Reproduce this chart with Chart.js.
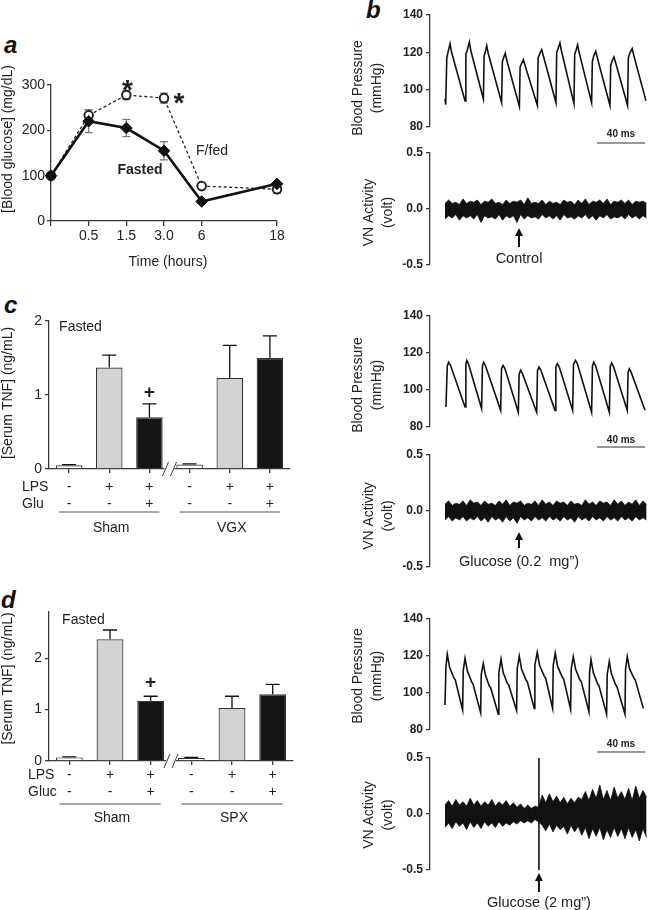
<!DOCTYPE html>
<html>
<head>
<meta charset="utf-8">
<title>Blood glucose, serum TNF and vagus nerve activity</title>
<script src="https://cdn.jsdelivr.net/npm/chart.js@4.4.1/dist/chart.umd.min.js"></script>
<style>
  html, body { margin: 0; padding: 0; background: #fff; }
  body { position: relative; width: 648px; height: 910px; overflow: hidden; }
  canvas { position: absolute; }
  .tag { position: absolute; font: italic bold 24px 'Liberation Sans', Arial, sans-serif; line-height: 24px; color: #111; }
</style>
</head>
<body>
<div class="tag" style="left:4px;top:33px">a</div>
<div class="tag" style="left:366px;top:-2px">b</div>
<div class="tag" style="left:4px;top:293px">c</div>
<div class="tag" style="left:1px;top:588px">d</div>
<script>
// ---- panel a: blood glucose after the glucose load
const timeLabels = ['0', '0.5', '1.5', '3.0', '6', '18'];
const timePos = [0, 1, 2, 3, 4, 6];          // 18 h sits two steps out on the axis
const fastedMean = [100, 220, 205, 155, 43, 82];
const fastedSem = [0, 25, 19, 20, 3, 4];
const fedMean = [100, 233, 278, 271, 77, 70];
const fedSem = [0, 12, 10, 11, 3, 9];

// ---- panels c and d: serum TNF
const tnfConditions = ['saline', 'LPS', 'LPS+Glu', 'saline ', 'LPS ', 'LPS+Glu '];
const lpsSigns = ['-', '+', '+', '-', '+', '+'];
const gluSigns = ['-', '-', '+', '-', '-', '+'];
const cMeans = [0.05, 1.37, 0.70, 0.06, 1.23, 1.50];
const cSem = [0.01, 0.17, 0.18, 0.01, 0.44, 0.30];
const cGroups = ['Sham', 'VGX'];
const dMeans = [0.07, 2.37, 1.17, 0.06, 1.03, 1.30];
const dSem = [0.01, 0.18, 0.09, 0.01, 0.23, 0.19];
const dGroups = ['Sham', 'SPX'];

// ---- panel b: blood pressure traces (ms, mmHg)
const bp1Time = [0, 0.6, 1.5, 2.5, 4.2, 5.5, 16.7,
  17.4, 18.5, 20.3, 21.5, 32, 32.6, 33.5, 34.8, 36, 47.2,
  47.8, 48.8, 50.2, 51.4, 62, 62.6, 63.8, 65.3, 66.5, 77,
  77.6, 78.8, 80.6, 82, 92.5, 93.1, 94.3, 95.8, 97, 107.5,
  108.1, 109.2, 110.5, 111.8, 122.2, 122.8, 124, 125.6, 127, 137.5,
  138.1, 139.4, 140.8, 142, 152.2, 152.8, 154, 156, 157.5, 167.5];
const bp1Value = [95, 92, 117, 120, 124.5, 120, 94,
  119, 121, 125.5, 121, 95, 118, 120, 123.5, 119.5, 93,
  115, 117, 119.5, 116, 91, 112, 114, 116, 113.5, 91.5,
  117, 119, 121.5, 118, 93, 120, 122, 125, 121, 92.5,
  119, 121, 124, 120, 93, 115, 118, 120.5, 117, 91.5,
  113, 115.5, 117.5, 115, 91.5, 117, 119.5, 122, 118, 94];

const bp2Time = [0.8, 1.9, 3, 4.5, 16.7, 17.4, 18.2, 19.6, 30.5,
  31.2, 32.3, 33.8, 46.4, 47.1, 48.4, 50, 61.1,
  61.8, 63, 64.5, 76.4, 77.1, 78.4, 80, 91.7,
  92.4, 93.6, 95.2, 106.4, 107.1, 108.8, 110.4, 122.2,
  122.9, 124, 125.6, 137, 137.7, 138.9, 140.5, 151.9,
  152.6, 153.6, 155.2, 166.7];
const bp2Value = [90.8, 113, 115, 113.5, 90.8, 114, 116, 114, 90,
  113, 115, 113, 89, 111.5, 113.3, 111.5, 88,
  108.5, 110.6, 109, 88, 110.5, 112.4, 110.5, 89,
  112.5, 114.2, 112.5, 89, 114, 116, 114, 88,
  113, 115, 113, 88, 112.5, 114.6, 112.5, 89,
  109.5, 111.5, 109.5, 89];

const bp3Time = [0, 0.8, 1.9, 3.8, 7.5, 8.6, 14.7,
  15.2, 16.7, 18.6, 22.2, 23.3, 29.7,
  30.2, 31.9, 33.6, 36.9, 38, 44.4,
  44.9, 46.7, 48.5, 51.9, 53, 59.7,
  60.2, 61.9, 63.8, 67.5, 68.6, 74.4,
  74.9, 76.9, 78.8, 82.8, 83.9, 89.7,
  90.2, 91.9, 93.8, 97.8, 98.9, 104.7,
  105.2, 106.9, 108.8, 112.5, 113.6, 120,
  120.5, 121.7, 123.6, 127.2, 128.3, 134.7,
  135.2, 136.9, 138.7, 142.2, 143.3, 150,
  150.5, 151.9, 153.8, 157.5, 158.6, 165.3];
const bp3Value = [93.5, 114.3, 121, 114, 108, 107, 90.8,
  112, 118.8, 112, 106, 105, 89.4,
  110, 116, 110, 103.8, 103, 88.6,
  111, 118.3, 111, 105.3, 104.5, 90.5,
  113, 120, 113, 107, 106, 91.7,
  115, 122, 115, 109, 108, 91.7,
  115, 121.6, 114.5, 108.5, 107.5, 91.2,
  113, 119.7, 113, 107, 106, 89.9,
  111, 118, 111, 105, 104, 88.6,
  110, 117, 110.5, 104.4, 103.5, 88.6,
  113, 119.7, 113, 108, 107, 91.7];

// ---- panel b: vagus nerve activity, upper and lower edge of the trace (volt)
const vnTime = [0, 3, 6, 9, 12, 15, 18, 21, 24, 27, 30, 33, 36, 39, 42, 45, 48, 51, 54, 57,
  60, 63, 66, 69, 72, 75, 78, 81, 84, 87, 90, 93, 96, 99, 102, 105, 108, 111, 114, 117,
  120, 123, 126, 129, 132, 135, 138, 141, 144, 147, 150, 153, 156, 159, 162, 165, 168];
const vn1Upper = [0.05, 0.08, 0.05, 0.06, 0.04, 0.09, 0.05, 0.07, 0.06, 0.08,
  0.04, 0.07, 0.06, 0.09, 0.05, 0.06, 0.04, 0.08, 0.05, 0.07,
  0.06, 0.08, 0.04, 0.10, 0.05, 0.06, 0.05, 0.08, 0.04, 0.07,
  0.05, 0.06, 0.04, 0.08, 0.06, 0.07, 0.04, 0.08, 0.05, 0.09,
  0.04, 0.07, 0.06, 0.08, 0.05, 0.09, 0.04, 0.07, 0.06, 0.08,
  0.05, 0.08, 0.04, 0.07, 0.06, 0.07, 0.05];
const vn1Lower = [-0.09, -0.06, -0.08, -0.05, -0.10, -0.06, -0.08, -0.06, -0.09, -0.05,
  -0.12, -0.06, -0.08, -0.07, -0.09, -0.05, -0.10, -0.06, -0.08, -0.06,
  -0.12, -0.05, -0.09, -0.06, -0.08, -0.07, -0.09, -0.05, -0.08, -0.06,
  -0.09, -0.06, -0.10, -0.05, -0.08, -0.07, -0.09, -0.06, -0.08, -0.05,
  -0.09, -0.06, -0.10, -0.06, -0.08, -0.05, -0.09, -0.07, -0.08, -0.06,
  -0.09, -0.05, -0.08, -0.06, -0.09, -0.06, -0.08];
const vn2Upper = [0.06, 0.09, 0.05, 0.07, 0.06, 0.09, 0.05, 0.10, 0.07, 0.08,
  0.05, 0.09, 0.06, 0.07, 0.05, 0.09, 0.06, 0.10, 0.05, 0.08,
  0.07, 0.09, 0.05, 0.07, 0.06, 0.09, 0.05, 0.10, 0.06, 0.08,
  0.05, 0.09, 0.07, 0.08, 0.05, 0.09, 0.06, 0.07, 0.05, 0.10,
  0.06, 0.08, 0.05, 0.09, 0.07, 0.08, 0.05, 0.10, 0.06, 0.09,
  0.05, 0.08, 0.06, 0.10, 0.05, 0.09, 0.06];
const vn2Lower = [-0.08, -0.05, -0.09, -0.06, -0.08, -0.05, -0.09, -0.06, -0.08, -0.05,
  -0.09, -0.06, -0.10, -0.05, -0.08, -0.06, -0.10, -0.05, -0.09, -0.06,
  -0.11, -0.05, -0.08, -0.06, -0.09, -0.05, -0.08, -0.06, -0.09, -0.05,
  -0.08, -0.06, -0.09, -0.05, -0.08, -0.06, -0.10, -0.05, -0.08, -0.06,
  -0.09, -0.05, -0.08, -0.06, -0.09, -0.05, -0.08, -0.06, -0.09, -0.05,
  -0.08, -0.06, -0.09, -0.05, -0.08, -0.06, -0.08];
const vn3Upper = [0.08, 0.12, 0.07, 0.13, 0.08, 0.11, 0.07, 0.14, 0.08, 0.12,
  0.07, 0.11, 0.08, 0.13, 0.07, 0.11, 0.08, 0.12, 0.07, 0.10,
  0.06, 0.09, 0.05, 0.08, 0.05, 0.07, 0.06,
  0.17, 0.10, 0.18, 0.11, 0.16, 0.10, 0.15, 0.09, 0.14, 0.10, 0.15,
  0.13, 0.20, 0.12, 0.22, 0.14, 0.26, 0.13, 0.21, 0.12, 0.24,
  0.14, 0.20, 0.13, 0.23, 0.12, 0.25, 0.14, 0.21, 0.15];
const vn3Lower = [-0.12, -0.08, -0.13, -0.07, -0.11, -0.08, -0.14, -0.07, -0.12, -0.08,
  -0.13, -0.07, -0.11, -0.08, -0.12, -0.07, -0.11, -0.08, -0.10, -0.07,
  -0.09, -0.06, -0.08, -0.06, -0.08, -0.05, -0.07,
  -0.10, -0.15, -0.09, -0.16, -0.10, -0.14, -0.11, -0.18, -0.10, -0.16, -0.11,
  -0.19, -0.12, -0.22, -0.13, -0.20, -0.12, -0.23, -0.14, -0.21, -0.12,
  -0.20, -0.13, -0.22, -0.12, -0.21, -0.14, -0.24, -0.13, -0.21];
const vn3SpikeTime = 78.3;
const vn3SpikeRange = [-0.5, 0.5];
const stimTime = [61.7, 61.7, 78.3];
const stimLabels = ['Control', 'Glucose (0.2  mg\u201d)', 'Glucose (2 mg\u201d)'];
const scaleBarMs = 40;

// ---------------------------------------------------------------
const FAMILY = "'Liberation Sans', Arial, Helvetica, sans-serif";
const INK = '#222';
const AXIS = '#3a3a3a';
Chart.defaults.font.family = FAMILY;
Chart.defaults.color = INK;
Chart.defaults.animation = false;
Chart.defaults.responsive = false;
Chart.defaults.plugins.legend.display = false;
Chart.defaults.plugins.tooltip.enabled = false;

const F = (size, weight) => (weight || 'normal') + ' ' + size + 'px ' + FAMILY;

function makeCanvas(box) {
  const c = document.createElement('canvas');
  c.width = box[2];
  c.height = box[3];
  c.style.left = box[0] + 'px';
  c.style.top = box[1] + 'px';
  c.style.width = box[2] + 'px';
  c.style.height = box[3] + 'px';
  document.body.appendChild(c);
  return c;
}

// box = canvas [left, top, w, h], area = wanted plot area [left, top, right, bottom], page px
function padFor(box, area, xShown) {
  return { left: 0, top: area[1] - box[1], right: box[0] + box[2] - area[2],
           bottom: xShown ? 0 : box[1] + box[3] - area[3] };
}
const axisLine = () => ({ display: true, color: AXIS, width: 1.3 });
const tickMarks = len => ({ display: true, drawOnChartArea: false, drawTicks: true, tickLength: len, color: AXIS, lineWidth: 1.3, offset: false });

function deco(box, hook, draw) {
  return {
    id: 'deco_' + hook,
    [hook](chart) {
      const ctx = chart.ctx;
      const sx = v => chart.scales.x.getPixelForValue(v) + box[0];
      const sy = v => chart.scales.y.getPixelForValue(v) + box[1];
      ctx.save();
      ctx.translate(-box[0], -box[1]);
      draw(ctx, sx, sy, chart);
      ctx.restore();
    }
  };
}

function label(ctx, str, x, y, font, align, rot, baseline) {
  ctx.save();
  ctx.font = font;
  ctx.fillStyle = INK;
  ctx.textAlign = align || 'center';
  ctx.textBaseline = baseline || 'middle';
  ctx.translate(x, y);
  if (rot) ctx.rotate(rot);
  ctx.fillText(str, 0, 0);
  ctx.restore();
}

function errBars(ctx, sx, sy, xs, mean, sem, color, cap, upOnly) {
  ctx.strokeStyle = color;
  ctx.lineWidth = 1.3;
  xs.forEach((xv, i) => {
    if (!sem[i]) return;
    const x = sx(xv), y0 = sy(upOnly ? mean[i] : mean[i] - sem[i]), y1 = sy(mean[i] + sem[i]);
    ctx.beginPath();
    ctx.moveTo(x, y0); ctx.lineTo(x, y1);
    ctx.moveTo(x - cap, y1); ctx.lineTo(x + cap, y1);
    if (!upOnly) { ctx.moveTo(x - cap, y0); ctx.lineTo(x + cap, y0); }
    ctx.stroke();
  });
}

// ---------------- panel a
const boxA = [0, 0, 330, 280], areaA = [51, 85, 277, 221];
new Chart(makeCanvas(boxA), {
  type: 'line',
  data: {
    datasets: [
      { label: 'Fasted', data: timePos.map((x, i) => ({ x, y: fastedMean[i] })),
        borderColor: '#111', borderWidth: 2.6, pointStyle: 'rectRot', pointRadius: 5.8,
        pointBackgroundColor: '#111', pointBorderColor: '#111', pointBorderWidth: 1, clip: false },
      { label: 'F/fed', data: timePos.map((x, i) => ({ x, y: fedMean[i] })),
        borderColor: '#222', borderWidth: 1.3, borderDash: [3, 2.5], pointStyle: 'circle', pointRadius: 4.3,
        pointBackgroundColor: '#fff', pointBorderColor: '#222', pointBorderWidth: 2, clip: false }
    ]
  },
  options: {
    layout: { padding: padFor(boxA, areaA, true) },
    scales: {
      x: { type: 'linear', min: 0, max: 6,
           afterFit: s => { s.height = boxA[1] + boxA[3] - areaA[3]; },
           afterBuildTicks: s => { s.ticks = timePos.map(v => ({ value: v })); },
           ticks: { callback: (v, i) => (i === 0 ? '' : timeLabels[i]), font: { size: 14 }, color: INK,
                    padding: 2, maxRotation: 0, autoSkip: false },
           grid: tickMarks(5), border: axisLine() },
      y: { min: 0, max: 300,
           afterFit: s => { s.width = areaA[0] - boxA[0]; },
           ticks: { stepSize: 100, font: { size: 14 }, color: INK, padding: 2 },
           grid: tickMarks(4), border: axisLine() }
    }
  },
  plugins: [
    deco(boxA, 'beforeDatasetsDraw', (ctx, sx, sy) => {
      errBars(ctx, sx, sy, timePos, fastedMean, fastedSem, '#7a7a7a', 4, false);
      errBars(ctx, sx, sy, timePos, fedMean, fedSem, '#7a7a7a', 4, false);
    }),
    deco(boxA, 'afterDraw', (ctx, sx, sy) => {
      label(ctx, '*', sx(2) + 1, sy(fedMean[2]) + 4, F(28, 'bold'), 'center', 0, 'alphabetic');
      label(ctx, '*', sx(3) + 15, sy(fedMean[3]) + 14, F(28, 'bold'), 'center', 0, 'alphabetic');
      label(ctx, 'F/fed', 212, 151.5, F(14), 'center');
      label(ctx, 'Fasted', 140, 170.5, F(14, 'bold'), 'center');
      label(ctx, 'Time (hours)', 168, 262, F(14), 'center');
      label(ctx, '[Blood glucose] (mg/dL)', 8.5, 139, F(14), 'center', -Math.PI / 2);
    })
  ]
});

// ---------------- panels c and d
function tnfChart(box, area, means, sem, yMax, groups, gluName, plusAt, pos) {
  return new Chart(makeCanvas(box), {
    type: 'bar',
    data: {
      labels: tnfConditions,
      datasets: [{ data: means, backgroundColor: ['#ffffff', '#d3d3d3', '#151515', '#ffffff', '#d3d3d3', '#151515'],
                   borderColor: '#333', borderWidth: 1.2, barPercentage: 0.66, categoryPercentage: 1 }]
    },
    options: {
      layout: { padding: padFor(box, area, true) },
      scales: {
        x: { afterFit: s => { s.height = box[1] + box[3] - area[3]; },
             ticks: { display: false }, grid: tickMarks(4), border: axisLine() },
        y: { min: 0, max: yMax,
             afterFit: s => { s.width = area[0] - box[0]; },
             afterBuildTicks: s => { s.ticks = s.ticks.filter(t => Number.isInteger(t.value)); },
             ticks: { stepSize: 1, font: { size: 14 }, color: INK, padding: 3 },
             grid: tickMarks(4), border: axisLine() }
      }
    },
    plugins: [deco(box, 'afterDraw', (ctx, sx, sy) => {
      errBars(ctx, sx, sy, [0, 1, 2, 3, 4, 5], means, sem, '#111', 7, true);
      label(ctx, '+', sx(2), sy(plusAt), F(19, 'bold'), 'center');
      // axis break between the two groups
      const mid = sx(2.5), y0 = sy(0);
      ctx.fillStyle = '#fff';
      ctx.fillRect(mid - 5, y0 - 2, 10, 5);
      ctx.strokeStyle = AXIS;
      ctx.lineWidth = 1;
      ctx.beginPath();
      ctx.moveTo(mid - 7, y0 + 7); ctx.lineTo(mid - 1, y0 - 7);
      ctx.moveTo(mid + 1, y0 + 7); ctx.lineTo(mid + 7, y0 - 7);
      ctx.stroke();
      label(ctx, 'Fasted', pos.fasted[0], pos.fasted[1], F(14), 'center');
      label(ctx, 'LPS', pos.rowX, pos.rowY[0], F(14), 'left');
      label(ctx, gluName, pos.rowX, pos.rowY[1], F(14), 'left');
      lpsSigns.forEach((s, i) => label(ctx, s, sx(i), pos.rowY[0], F(14), 'center'));
      gluSigns.forEach((s, i) => label(ctx, s, sx(i), pos.rowY[1], F(14), 'center'));
      ctx.strokeStyle = '#555';
      ctx.lineWidth = 1;
      groups.forEach((g, k) => {
        ctx.beginPath();
        ctx.moveTo(sx(k * 3) - 10, pos.lineY);
        ctx.lineTo(sx(k * 3 + 2) + 10, pos.lineY);
        ctx.stroke();
        label(ctx, g, sx(k * 3 + 1) + 2, pos.groupY, F(14), 'center');
      });
      label(ctx, '[Serum TNF] (ng/mL)', 8.5, pos.titleY, F(14), 'center', -Math.PI / 2);
    })]
  });
}

tnfChart([0, 280, 330, 280], [49, 321, 290, 469], cMeans, cSem, 2, cGroups, 'Glu', 1.03,
  { fasted: [80.5, 327.5], rowX: 22, rowY: [487, 504], lineY: 512, groupY: 528, titleY: 393 });
tnfChart([0, 560, 330, 350], [49, 612, 293, 761], dMeans, dSem, 2.9, dGroups, 'Gluc', 1.53,
  { fasted: [83.5, 620], rowX: 28, rowY: [775, 792], lineY: 804, groupY: 818, titleY: 678.5 });

// ---------------- panel b
const traceMin = -12.5, traceMax = 169.2;

function traceChart(box, area, datasets, yMin, yMax, step, fmt, draw) {
  return new Chart(makeCanvas(box), {
    type: 'line',
    data: { datasets },
    options: {
      layout: { padding: padFor(box, area, false) },
      elements: { point: { radius: 0 }, line: { tension: 0 } },
      scales: {
        x: { type: 'linear', display: false, min: traceMin, max: traceMax },
        y: { min: yMin, max: yMax,
             afterFit: s => { s.width = area[0] - box[0]; },
             ticks: { stepSize: step, callback: fmt, font: { size: 12, weight: 'bold' }, color: INK, padding: 3 },
             grid: tickMarks(4), border: axisLine() }
      }
    },
    plugins: [deco(box, 'afterDraw', draw)]
  });
}

const xy = (ts, vs) => ts.map((t, i) => ({ x: t, y: vs[i] }));
const traceLine = (ts, vs) => ({ data: xy(ts, vs), borderColor: '#111', borderWidth: 1.6, fill: false });
const band = (up, lo) => [
  { data: xy(vnTime, up), borderColor: '#111', borderWidth: 0.8, fill: '+1', backgroundColor: '#111' },
  { data: xy(vnTime, lo), borderColor: '#111', borderWidth: 0.8, fill: false }
];

function bpDraw(titleY, barY, barTextY) {
  return (ctx, sx) => {
    label(ctx, 'Blood Pressure', 358, titleY, F(14), 'center', -Math.PI / 2);
    label(ctx, '(mmHg)', 377.5, titleY, F(14), 'center', -Math.PI / 2);
    const x1 = sx(166.7), x0 = sx(166.7 - scaleBarMs);
    ctx.strokeStyle = '#333';
    ctx.lineWidth = 1.2;
    ctx.beginPath(); ctx.moveTo(x0, barY); ctx.lineTo(x1, barY); ctx.stroke();
    label(ctx, scaleBarMs + ' ms', (x0 + x1) / 2, barTextY, F(10, 'bold'), 'center');
  };
}
function vnDraw(k, titleY, tipY, baseY, textY) {
  return (ctx, sx) => {
    label(ctx, 'VN Activity', 369, titleY, F(14), 'center', -Math.PI / 2);
    label(ctx, '(volt)', 388, titleY, F(14), 'center', -Math.PI / 2);
    const x = sx(stimTime[k]);
    ctx.strokeStyle = '#111';
    ctx.fillStyle = '#111';
    ctx.lineWidth = 2;
    ctx.beginPath(); ctx.moveTo(x, tipY + 6); ctx.lineTo(x, baseY); ctx.stroke();
    ctx.beginPath(); ctx.moveTo(x, tipY); ctx.lineTo(x - 4, tipY + 8); ctx.lineTo(x + 4, tipY + 8); ctx.closePath(); ctx.fill();
    label(ctx, stimLabels[k], x, textY, F(14.5), 'center');
  };
}
const fmtBp = v => String(v);
const fmtVn = v => v.toFixed(1);

traceChart([330, 0, 318, 150], [430, 15, 648, 127], [traceLine(bp1Time, bp1Value)], 80, 140, 20, fmtBp,
  bpDraw(88, 143, 134));
traceChart([330, 140, 318, 140], [430, 153, 648, 265], band(vn1Upper, vn1Lower), -0.5, 0.5, 0.5, fmtVn,
  vnDraw(0, 212.5, 228, 247, 259));
traceChart([330, 290, 318, 170], [430, 316, 648, 427], [traceLine(bp2Time, bp2Value)], 80, 140, 20, fmtBp,
  bpDraw(385, 447, 440));
traceChart([330, 440, 318, 140], [430, 455, 648, 567], band(vn2Upper, vn2Lower), -0.5, 0.5, 0.5, fmtVn,
  vnDraw(1, 516, 532, 548, 562));
traceChart([330, 585, 318, 175], [430, 619, 648, 730], [traceLine(bp3Time, bp3Value)], 80, 140, 20, fmtBp,
  bpDraw(676, 752, 744));
traceChart([330, 740, 318, 170], [430, 758, 648, 870],
  band(vn3Upper, vn3Lower).concat([{ data: vn3SpikeRange.map(v => ({ x: vn3SpikeTime, y: v })),
    borderColor: '#111', borderWidth: 1.6, fill: false }]),
  -0.5, 0.5, 0.5, fmtVn, vnDraw(2, 815, 873, 892, 903));
</script>
</body>
</html>
